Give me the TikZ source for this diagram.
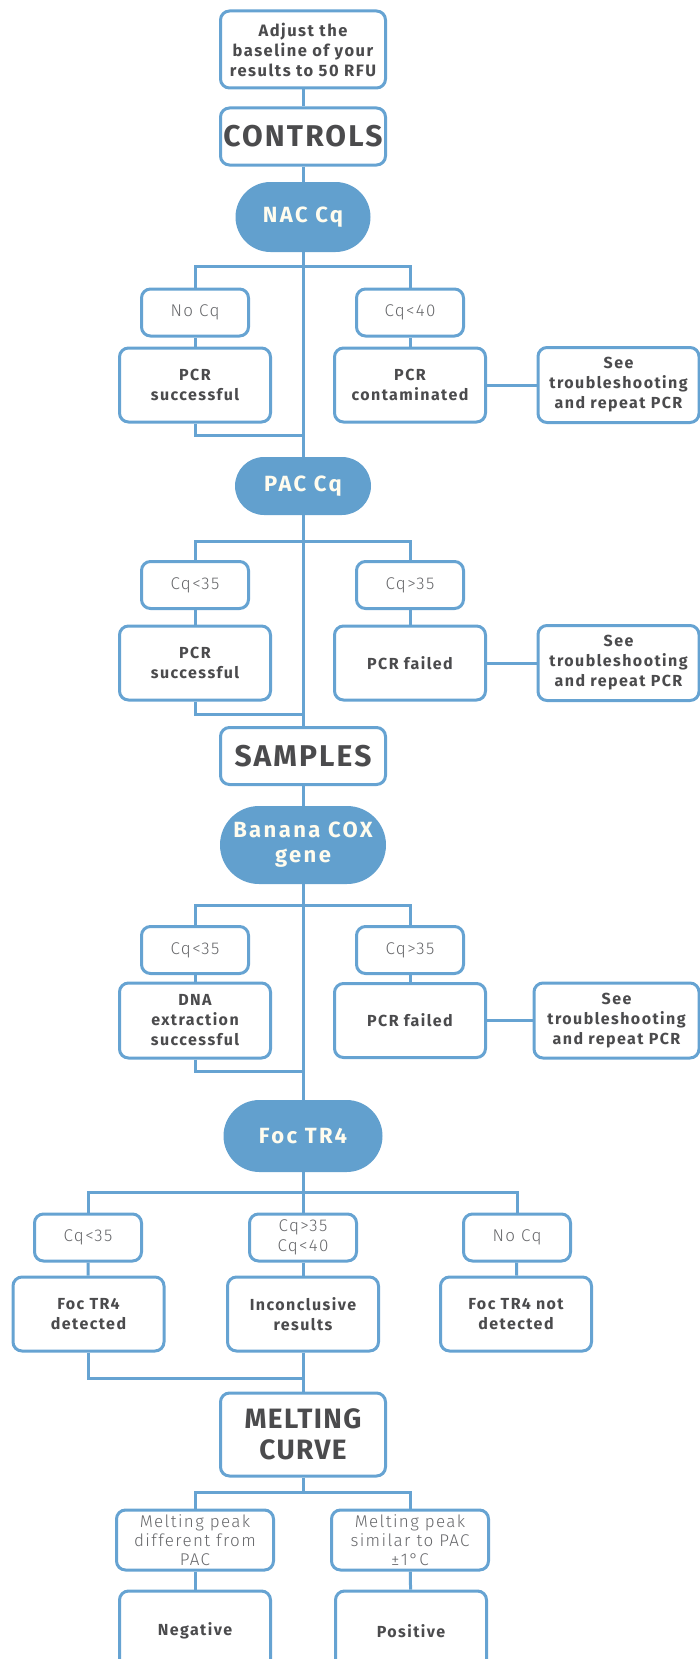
\documentclass[tikz,border=0pt]{standalone}
\usepackage{fontspec}
\setmainfont{Fira Sans}[LetterSpace=9]
\newfontfamily\thinfont{Fira Sans Light}[LetterSpace=8]
\newfontfamily\headfont{Fira Sans}[LetterSpace=7]
\newfontfamily\meltfont{Fira Sans}[LetterSpace=5]
\newfontfamily\pillfont{Fira Sans}[LetterSpace=11]
\definecolor{lineblue}{HTML}{66A3D2}
\definecolor{pillblue}{HTML}{62A0CE}
\definecolor{textdark}{HTML}{4B4B4D}
\definecolor{textlight}{HTML}{66676A}
\definecolor{pilltext}{HTML}{FFFCEE}
\begin{document}
\begin{tikzpicture}[x=1pt,y=-1pt,
  conn/.style={draw=lineblue, line width=3pt},
  box/.style={draw=lineblue, line width=3pt, rounded corners=9pt, fill=white, align=center, inner sep=0pt, text=textdark, font=\bfseries\fontsize{16}{20}\selectfont, minimum width=151pt, minimum height=74pt},
  cond/.style={box, text=textlight, font=\thinfont\fontsize{17}{20}\selectfont, minimum width=107pt, minimum height=47pt},
  mcond/.style={box, text=textlight, font=\thinfont\fontsize{17}{19}\selectfont, minimum width=157pt, minimum height=60pt},
  head/.style={box, font=\headfont\bfseries\fontsize{30}{31}\selectfont, minimum width=165pt, minimum height=57pt},
  pill/.style={fill=pillblue, align=center, inner sep=0pt, text=pilltext, font=\pillfont\bfseries\fontsize{22}{25}\selectfont},
  seebox/.style={box, minimum width=161pt, minimum height=75pt}
]
\useasboundingbox (0,0) rectangle (700,1659);

% controls
\node[box, minimum width=165pt, minimum height=77pt, font=\bfseries\fontsize{16.5}{20}\selectfont] (adjust) at (303,49.5) {Adjust the\\baseline of your\\results to 50 RFU};
\node[head] (controls) at (303,136.5) {CONTROLS};
\node[pill, minimum width=135pt, minimum height=70pt, rounded corners=35pt] (nac) at (303,217) {NAC Cq};
\node[cond] (nocq) at (195,312.5) {No Cq};
\node[cond] (cq40) at (410,312.5) {Cq<40};
\node[box] (pcrs1) at (195,385) {PCR\\successful};
\node[box] (pcrc) at (410,385) {PCR\\contaminated};
\node[seebox] (see1) at (618.5,385) {See\\troubleshooting\\and repeat PCR};

\node[pill, minimum width=136pt, minimum height=58pt, rounded corners=29pt] (pac) at (303,486) {PAC Cq};
\node[cond] (cq35a) at (195,585) {Cq<35};
\node[cond] (cq35b) at (410,585) {Cq>35};
\node[box] (pcrs2) at (195,663) {PCR\\successful};
\node[box] (pcrf1) at (410,663) {PCR failed};
\node[seebox] (see2) at (618.5,663) {See\\troubleshooting\\and repeat PCR};

% samples
\node[head] (samples) at (303,756) {SAMPLES};
\node[pill, minimum width=166pt, minimum height=78pt, rounded corners=39pt] (banana) at (303,845) {Banana COX\\gene};
\node[cond] (cq35c) at (195,950) {Cq<35};
\node[cond] (cq35d) at (410,950) {Cq>35};
\node[box, minimum height=75pt] (dna) at (195,1020.5) {DNA\\extraction\\successful};
\node[box] (pcrf2) at (410,1020.5) {PCR failed};
\node[seebox, minimum width=165pt] (see3) at (616.5,1020.5) {See\\troubleshooting\\and repeat PCR};

\node[pill, minimum width=159pt, minimum height=72pt, rounded corners=36pt] (foc) at (303,1136) {Foc TR4};
\node[cond] (cq35e) at (88,1237.5) {Cq<35};
\node[cond] (cq3540) at (303,1237.5) {Cq>35\\Cq<40};
\node[cond] (nocq2) at (517,1237.5) {No Cq};
\node[box] (focdet) at (88.5,1314) {Foc TR4\\detected};
\node[box] (incon) at (303,1314) {Inconclusive\\results};
\node[box] (focnot) at (516,1314) {Foc TR4 not\\detected};

% melting
\node[head, font=\meltfont\bfseries\fontsize{28}{31}\selectfont, minimum height=83pt] (melting) at (303,1434.5) {MELTING\\CURVE};
\node[mcond] (mpd) at (195,1540) {Melting peak\\different from\\PAC};
\node[mcond] (mps) at (410,1540) {Melting peak\\similar to PAC\\±1°C};
\node[box, minimum height=80pt] (neg) at (195,1631) {Negative};
\node[box, minimum height=80pt] (pos) at (411,1631) {Positive};

% spine coordinates
\coordinate (b1) at (303,266);
\coordinate (r1) at (303,435);
\coordinate (b2) at (303,541);
\coordinate (r2) at (303,714);
\coordinate (b3) at (303,905);
\coordinate (r3) at (303,1071);
\coordinate (b4) at (303,1192);
\coordinate (r4) at (303,1378);
\coordinate (b5) at (303,1492);

% connectors
\draw[conn] (adjust) -- (controls);
\draw[conn] (controls) -- (nac);
\draw[conn] (nac) -- (pac);
\draw[conn] (nocq.north) |- (b1) -| (cq40.north);
\draw[conn] (nocq) -- (pcrs1);
\draw[conn] (cq40) -- (pcrc);
\draw[conn] (pcrs1.south) |- (r1);
\draw[conn] (pcrc) -- (see1);

\draw[conn] (pac) -- (samples);
\draw[conn] (cq35a.north) |- (b2) -| (cq35b.north);
\draw[conn] (cq35a) -- (pcrs2);
\draw[conn] (cq35b) -- (pcrf1);
\draw[conn] (pcrs2.south) |- (r2);
\draw[conn] (pcrf1) -- (see2);

\draw[conn] (samples) -- (banana);
\draw[conn] (banana) -- (foc);
\draw[conn] (cq35c.north) |- (b3) -| (cq35d.north);
\draw[conn] (cq35c) -- (dna);
\draw[conn] (cq35d) -- (pcrf2);
\draw[conn] (dna.south) |- (r3);
\draw[conn] (pcrf2) -- (see3);

\draw[conn] (foc) -- (cq3540);
\draw[conn] (cq35e.north) |- (b4) -| (nocq2.north);
\draw[conn] (cq35e) -- (focdet);
\draw[conn] (cq3540) -- (incon);
\draw[conn] (nocq2) -- (focnot);
\draw[conn] (focdet.south) |- (r4);
\draw[conn] (incon) -- (melting);

\draw[conn] (melting.south) -- (b5);
\draw[conn] (mpd.north) |- (b5) -| (mps.north);
\draw[conn] (mpd) -- (neg);
\draw[conn] (mps) -- (pos);
\end{tikzpicture}
\end{document}
